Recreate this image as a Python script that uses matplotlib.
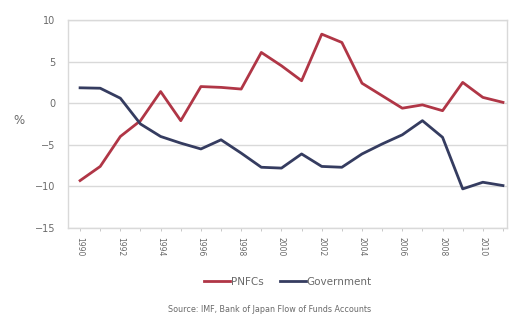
import matplotlib

matplotlib.use("Agg")

import matplotlib.pyplot as plt
import numpy as np

years = list(range(1990, 2012))
pnfcs = [-9.3, -7.6, -4.0, -2.1, 1.4, -2.1, 2.0, 1.9, 1.7, 6.1, 4.5, 2.7,
         8.3, 7.3, 2.4, 0.9, -0.6, -0.2, -0.9, 2.5, 0.7, 0.1]
government = [1.85, 1.8, 0.6, -2.5, -4.0, -4.8, -5.5, -4.4, -6.0, -7.7, -7.8, -6.1,
              -7.6, -7.7, -6.1, -4.9, -3.8, -2.1, -4.1, -10.3, -9.5, -9.9]
y_ticks = [10, 5, 0, -5, -10, -15]
source_text = "Source: IMF, Bank of Japan Flow of Funds Accounts"

RED = "#b03646"
NAVY = "#353c60"
GREY_TEXT = "#6a6a6a"
GRID = "#d9d9d9"

fig = plt.figure(figsize=(5.14, 3.16), dpi=100)
ax = fig.add_axes([68 / 514, 1 - 228 / 316, (507 - 68) / 514, (228 - 20) / 316])

x = np.arange(len(years))
ax.plot(x, pnfcs, color=RED, linewidth=2.0, label="PNFCs", solid_joinstyle="round")
ax.plot(x, government, color=NAVY, linewidth=2.0, label="Government", solid_joinstyle="round")

ax.set_ylim(-15, 10)
ax.set_yticks(y_ticks)
ax.set_xlim(-0.6, len(years) - 1 + 0.2)
ax.set_xticks(x)
ax.set_xticklabels([str(y) if y % 2 == 0 else "" for y in years], rotation=270,
                   fontsize=5.5, color=GREY_TEXT)
ax.tick_params(axis="x", length=2.5, width=0.6, color="#bfbfbf", pad=4)
ax.tick_params(axis="y", length=0, labelsize=7, labelcolor=GREY_TEXT, pad=9)
ax.grid(axis="y", color=GRID, linewidth=1.0)
ax.set_axisbelow(True)
for side in ["top", "right", "left", "bottom"]:
    ax.spines[side].set_color(GRID)
    ax.spines[side].set_linewidth(1.0)

fig.text(13 / 514, 1 - 120 / 316, "%", fontsize=8.5, color=GREY_TEXT, ha="left", va="center")

leg = fig.legend(loc="center", bbox_to_anchor=(288 / 514, 1 - 282 / 316), ncol=2,
                 frameon=False, fontsize=7.5, handlelength=2.5, handletextpad=0.1,
                 columnspacing=1.5)
for t in leg.get_texts():
    t.set_color(GREY_TEXT)

fig.text(270 / 514, 1 - 310 / 316, source_text, fontsize=5.8, color=GREY_TEXT,
         ha="center", va="center")

fig.savefig("out.png", dpi=100)
